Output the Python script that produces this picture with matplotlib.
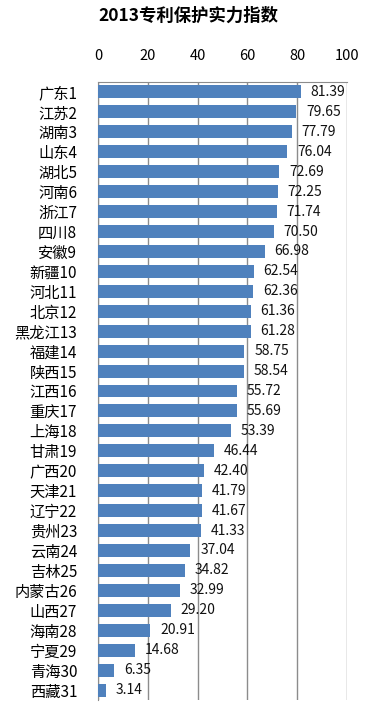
import matplotlib
matplotlib.use("Agg")
import matplotlib.pyplot as plt

plt.rcParams['font.family'] = ['Noto Sans CJK SC', 'DejaVu Sans']

categories = ["广东1", "江苏2", "湖南3", "山东4", "湖北5", "河南6", "浙江7", "四川8", "安徽9",
              "新疆10", "河北11", "北京12", "黑龙江13", "福建14", "陕西15", "江西16", "重庆17",
              "上海18", "甘肃19", "广西20", "天津21", "辽宁22", "贵州23", "云南24", "吉林25",
              "内蒙古26", "山西27", "海南28", "宁夏29", "青海30", "西藏31"]
values = [81.39, 79.65, 77.79, 76.04, 72.69, 72.25, 71.74, 70.50, 66.98,
          62.54, 62.36, 61.36, 61.28, 58.75, 58.54, 55.72, 55.69,
          53.39, 46.44, 42.40, 41.79, 41.67, 41.33, 37.04, 34.82,
          32.99, 29.20, 20.91, 14.68, 6.35, 3.14]
xticks = [0, 20, 40, 60, 80, 100]
title = "2013专利保护实力指数"

fig = plt.figure(figsize=(3.8, 7.28), dpi=100)
ax = fig.add_axes([98/380, 28/728, (347-98)/380, (700-82)/728])

n = len(categories)
ypos = list(range(n))
ax.barh(ypos, values, height=0.65, color='#4F81BD', zorder=3)
for y, v in zip(ypos, values):
    ax.text(v + 4, y, f"{v:.2f}", va='center', ha='left', fontsize=10, color='#111111', zorder=4)

ax.set_xlim(0, 100)
ax.set_ylim(n - 0.5, -0.5)
ax.set_yticks(ypos)
ax.set_yticklabels(categories, fontsize=11)
ax.set_xticks(xticks)
ax.xaxis.tick_top()
ax.tick_params(axis='x', length=0, pad=14, labelsize=10.5)
ax.tick_params(axis='y', length=0, pad=15)
ax.grid(axis='x', color='#8c8c8c', linewidth=1, zorder=0)
for s in ['left', 'right', 'bottom']:
    ax.spines[s].set_visible(False)
ax.spines['top'].set_color('#8c8c8c')
ax.spines['left'].set_visible(True)
ax.spines['left'].set_color('#8c8c8c')

fig.text(188/380, 1 - 16/728, title, ha='center', va='center', fontsize=12.5, fontweight='bold')

fig.savefig("out.png", dpi=100)
